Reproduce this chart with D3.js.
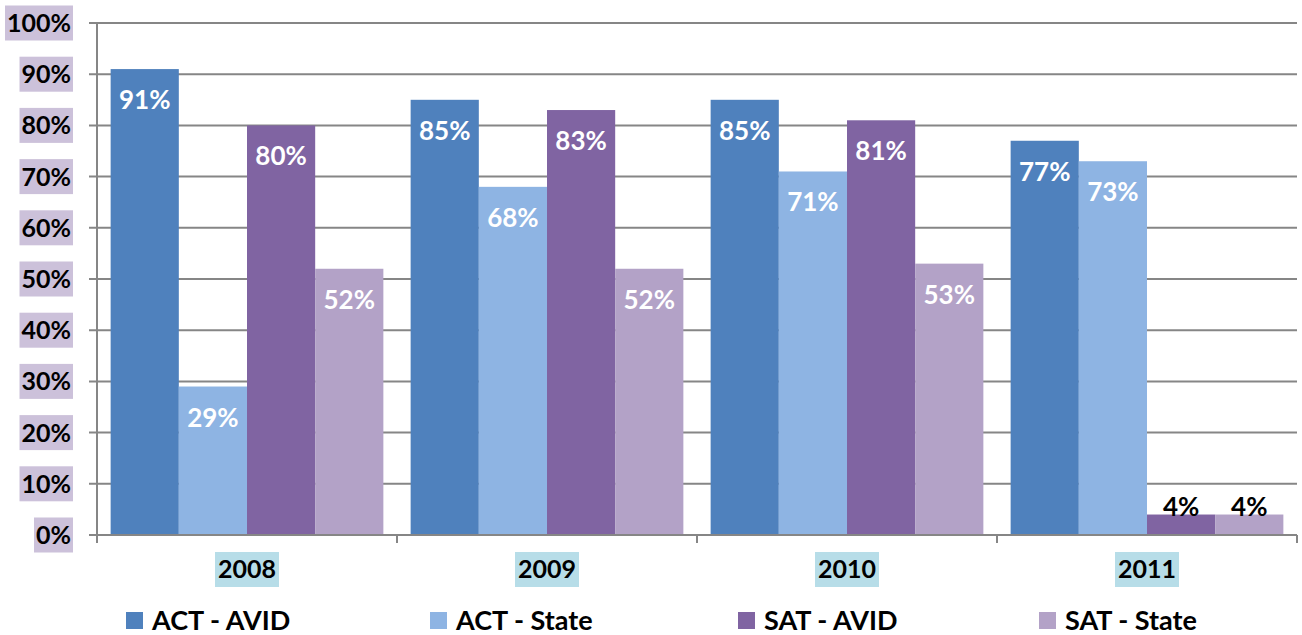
<!DOCTYPE html>
<html>
<head>
<meta charset="utf-8">
<script src="https://cdn.jsdelivr.net/npm/d3@7"></script>
<style>
  body { margin: 0; background: #fff; }
  text { font-family: "Lato", "Open Sans", sans-serif; font-weight: bold; }
</style>
</head>
<body>
<div class="chart"></div>
<script>
const years = ["2008", "2009", "2010", "2011"];
const seriesNames = ["ACT - AVID", "ACT - State", "SAT - AVID", "SAT - State"];
const seriesColors = ["#4f81bd", "#8eb4e3", "#8064a2", "#b3a2c7"];
const actAvid = [91, 85, 85, 77];
const actState = [29, 68, 71, 73];
const satAvid = [80, 83, 81, 4];
const satState = [52, 52, 53, 4];
const yTicks = [0, 10, 20, 30, 40, 50, 60, 70, 80, 90, 100];

const allSeries = [actAvid, actState, satAvid, satState];

const svgWidth = 1302;
const svgHeight = 635;
const margin = { top: 23, right: 5, bottom: 100, left: 97 };
const width = 1297 - margin.left;
const height = 535 - margin.top;

const svg = d3.select(".chart")
    .append("svg")
    .attr("width", svgWidth)
    .attr("height", svgHeight);

const chartGroup = svg.append("g")
    .attr("transform", `translate(${margin.left}, ${margin.top})`);

const x0 = d3.scaleBand()
    .domain(years)
    .range([0, width])
    .paddingInner(0)
    .paddingOuter(0);

const x1 = d3.scaleBand()
    .domain(seriesNames)
    .range([0, x0.bandwidth()])
    .paddingInner(0)
    .paddingOuter(0.2);

const y = d3.scaleLinear()
    .domain([0, 100])
    .range([height, 0]);

// gridlines
chartGroup.append("g")
    .selectAll("line")
    .data(yTicks.filter(d => d > 0))
    .enter()
    .append("line")
    .attr("x1", -8)
    .attr("x2", width)
    .attr("y1", d => y(d))
    .attr("y2", d => y(d))
    .attr("stroke", "#868686")
    .attr("stroke-width", 2);

// bars
const groups = chartGroup.selectAll(".year")
    .data(years)
    .enter()
    .append("g")
    .attr("transform", d => `translate(${x0(d)}, 0)`);

const barData = (yr, i) => seriesNames.map((s, j) => ({ name: s, value: allSeries[j][i], color: seriesColors[j] }));

groups.selectAll("rect")
    .data(barData)
    .enter()
    .append("rect")
    .attr("x", d => x1(d.name))
    .attr("y", d => y(d.value))
    .attr("width", x1.bandwidth())
    .attr("height", d => height - y(d.value))
    .attr("fill", d => d.color);

groups.selectAll(".lbl")
    .data(barData)
    .enter()
    .append("text")
    .attr("class", "lbl")
    .attr("x", d => x1(d.name) + x1.bandwidth() / 2)
    .attr("y", d => d.value >= 10 ? y(d.value) + 40 : y(d.value) + 1)
    .attr("text-anchor", "middle")
    .attr("fill", d => d.value >= 10 ? "#fff" : "#000")
    .style("font-size", "26px")
    .text(d => d.value + "%");

// axes lines
chartGroup.append("line")
    .attr("x1", 0).attr("x2", 0)
    .attr("y1", 0).attr("y2", height)
    .attr("stroke", "#868686").attr("stroke-width", 2);
chartGroup.append("line")
    .attr("x1", -8).attr("x2", width)
    .attr("y1", height).attr("y2", height)
    .attr("stroke", "#868686").attr("stroke-width", 2);

// x ticks
chartGroup.append("g")
    .selectAll("line")
    .data(years.concat(["end"]))
    .enter()
    .append("line")
    .attr("x1", (d, i) => i < years.length ? x0(d) : width)
    .attr("x2", (d, i) => i < years.length ? x0(d) : width)
    .attr("y1", height)
    .attr("y2", height + 8)
    .attr("stroke", "#868686").attr("stroke-width", 2);

// y tick labels with boxes
const yLabels = chartGroup.append("g");
yTicks.forEach(t => {
    const g = yLabels.append("g");
    const txt = g.append("text")
        .attr("x", -26)
        .attr("y", y(t))
        .attr("dy", "0.36em")
        .attr("text-anchor", "end")
        .attr("fill", "#000")
        .style("font-size", "25px")
        .text(t + "%");
    const bb = txt.node().getBBox();
    g.insert("rect", "text")
        .attr("x", bb.x - 2)
        .attr("y", y(t) - 17.5)
        .attr("width", bb.width + 4)
        .attr("height", 35)
        .attr("fill", "#ccc1da");
});

// x category labels
years.forEach(yr => {
    const g = chartGroup.append("g");
    const cx = x0(yr) + x0.bandwidth() / 2;
    const txt = g.append("text")
        .attr("x", cx)
        .attr("y", height + 34)
        .attr("dy", "0.36em")
        .attr("text-anchor", "middle")
        .attr("fill", "#000")
        .style("font-size", "25px")
        .text(yr);
    const bb = txt.node().getBBox();
    g.insert("rect", "text")
        .attr("x", bb.x - 3)
        .attr("y", height + 17)
        .attr("width", bb.width + 6)
        .attr("height", 35)
        .attr("fill", "#b7dde8");
});

// legend
const legendX = [126, 430, 738, 1039];
const legend = svg.append("g");
seriesNames.forEach((s, i) => {
    legend.append("rect")
        .attr("x", legendX[i])
        .attr("y", 612)
        .attr("width", 17)
        .attr("height", 17)
        .attr("fill", seriesColors[i]);
    legend.append("text")
        .attr("x", legendX[i] + 26)
        .attr("y", 630)
        .attr("fill", "#000")
        .style("font-size", "27px")
        .text(s);
});
</script>
</body>
</html>
